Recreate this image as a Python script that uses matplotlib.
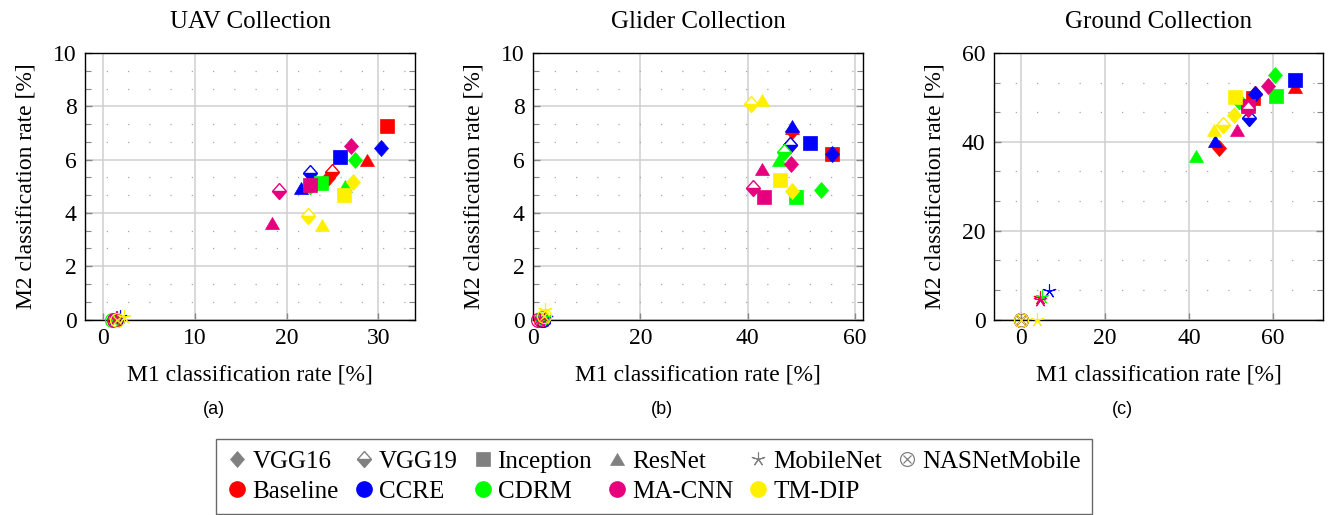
import matplotlib
matplotlib.use('Agg')
import matplotlib.pyplot as plt
from matplotlib.markers import MarkerStyle
from matplotlib.transforms import Affine2D
from matplotlib.lines import Line2D
from matplotlib.ticker import MultipleLocator

plt.rcParams['font.family'] = ['Liberation Serif', 'DejaVu Serif']

methods = ['Baseline', 'CCRE', 'CDRM', 'MA-CNN', 'TM-DIP']
method_colors = ['#ff0000', '#0000ff', '#00ff00', '#e6007e', '#fff000']
backbones = ['VGG16', 'VGG19', 'Inception', 'ResNet', 'MobileNet', 'NASNetMobile']

# rows = methods, columns = backbones (same order as above)
uav_m1 = [[24.5, 25.0, 31.0, 28.8, 1.5, 1.3],
          [30.3, 22.5, 25.8, 21.6, 1.8, 1.4],
          [27.5, 22.6, 23.7, 26.4, 1.2, 1.0],
          [27.0, 19.2, 22.5, 18.4, 1.4, 1.2],
          [27.2, 22.3, 26.3, 23.9, 2.3, 1.5]]
uav_m2 = [[5.30, 5.55, 7.25, 5.97, 0.05, 0.0],
          [6.45, 5.50, 6.10, 4.93, 0.10, 0.0],
          [5.98, 5.00, 5.13, 5.00, 0.00, 0.0],
          [6.50, 4.82, 5.03, 3.62, 0.05, 0.0],
          [5.16, 3.90, 4.68, 3.54, 0.10, 0.0]]

glider_m1 = [[48.3, 47.8, 55.8, 48.3, 2.0, 1.5],
             [55.8, 47.8, 51.6, 48.3, 2.5, 1.8],
             [53.7, 46.8, 49.0, 45.8, 2.2, 1.6],
             [48.1, 41.0, 43.1, 42.7, 1.2, 1.0],
             [48.2, 40.7, 46.0, 42.6, 2.2, 2.0]]
glider_m2 = [[7.08, 6.55, 6.20, 7.20, 0.00, 0.00],
             [6.20, 6.55, 6.62, 7.25, 0.05, 0.00],
             [4.85, 6.30, 4.60, 6.00, 0.10, 0.05],
             [5.82, 4.95, 4.60, 5.65, 0.00, 0.00],
             [4.84, 8.10, 5.22, 8.25, 0.35, 0.15]]

ground_m1 = [[47.3, 55.8, 55.4, 65.3, 4.5, 0.0],
             [55.8, 54.4, 65.4, 46.2, 6.6, 0.0],
             [60.5, 52.0, 60.9, 41.7, 4.9, 0.0],
             [59.0, 54.0, 54.2, 51.6, 4.4, 0.0],
             [50.7, 48.1, 51.1, 46.1, 3.7, 0.0]]
ground_m2 = [[38.6, 50.8, 49.8, 52.3, 4.8, 0.0],
             [50.8, 45.3, 54.0, 40.2, 6.45, 0.0],
             [55.0, 49.1, 50.4, 36.9, 5.1, 0.0],
             [52.5, 47.3, 48.0, 42.7, 4.4, 0.0],
             [46.1, 43.8, 50.1, 42.7, 0.0, 0.0]]

diamond_tf = Affine2D().scale(0.8, 1.0)
tri_tf = Affine2D().scale(1.0, 0.85)


def marker_kws(b, color):
    # list of marker layers drawn on top of each other
    if b == 0:
        return [dict(marker=MarkerStyle('D', transform=diamond_tf), ms=8.5,
                     mfc=color, mec=color, mew=0.5)]
    if b == 1:
        return [dict(marker=MarkerStyle('D', fillstyle='bottom', transform=diamond_tf),
                     ms=8.5, mfc=color, mfcalt='white', mec=color, mew=1.0)]
    if b == 2:
        return [dict(marker='s', ms=10.5, mfc=color, mec=color, mew=0.5)]
    if b == 3:
        return [dict(marker=MarkerStyle('^', transform=tri_tf), ms=10,
                     mfc=color, mec=color, mew=0.5)]
    if b == 4:
        return [dict(marker=(5, 2, 0), ms=10, mfc=color, mec=color, mew=0.8)]
    return [dict(marker='o', ms=10, mfc='none', mec=color, mew=0.9),
            dict(marker='x', ms=6.2, mec=color, mew=0.9)]


draw_order = [2, 0, 1, 3, 4, 5]

fig = plt.figure(figsize=(13.32, 5.15), dpi=100)
panels = [
    ('UAV Collection', uav_m1, uav_m2, [0.0638, 0.3796, 0.2477, 0.5175], (-2, 34), [0, 10, 20, 30], 10, 2),
    ('Glider Collection', glider_m1, glider_m2, [0.4002, 0.3796, 0.2477, 0.5175], (0, 61.5), [0, 20, 40, 60], 10, 2),
    ('Ground Collection', ground_m1, ground_m2, [0.7462, 0.3796, 0.2470, 0.5175], (-6.5, 72), [0, 20, 40, 60], 60, 20),
]
sub_labels = ['(a)', '(b)', '(c)']

for i, (title, m1, m2, rect, xlim, xticks, ymax, ystep) in enumerate(panels):
    ax = fig.add_axes(rect)
    ax.set_xlim(*xlim)
    ax.set_ylim(0, ymax)
    ax.set_xticks(xticks)
    ax.yaxis.set_major_locator(MultipleLocator(ystep))
    ax.yaxis.set_minor_locator(MultipleLocator(ystep / 3))
    ax.grid(which='major', color='#cfcfcf', lw=1.1)
    ax.grid(which='minor', axis='y', color='#a8a8a8', lw=0.9, linestyle=(0, (1, 16)))
    ax.set_axisbelow(True)
    ax.tick_params(which='both', direction='in', top=False, right=True, color='#888888',
                   labelsize=17, pad=6)
    ax.tick_params(which='major', length=5, width=1.0)
    ax.tick_params(which='minor', length=4, width=0.8)
    for s in ax.spines.values():
        s.set_linewidth(1.0)
    ax.set_title(title, fontsize=18, pad=18)
    ax.set_xlabel('M1 classification rate [%]', fontsize=17, labelpad=11)
    ax.set_ylabel('M2 classification rate [%]', fontsize=17, labelpad=12)

    for mi, color in enumerate(method_colors):
        for b in draw_order:
            for kw in marker_kws(b, color):
                ax.plot([m1[mi][b]], [m2[mi][b]], linestyle='none', clip_on=False,
                        zorder=3, **kw)

    fig.text(rect[0] + rect[2] * 0.39, 0.205, sub_labels[i], ha='center', va='center',
             fontsize=13, family='Liberation Sans')

gray = '#808080'
shape_handles = []
for b in range(6):
    layers = tuple(Line2D([], [], linestyle='none', **kw) for kw in marker_kws(b, gray))
    shape_handles.append(layers[0] if len(layers) == 1 else layers)
color_handles = [Line2D([], [], linestyle='none', marker='o', ms=11, mfc=c, mec=c)
                 for c in method_colors]
handles, labels = [], []
for k in range(6):
    handles.append(shape_handles[k])
    labels.append(backbones[k])
    if k < 5:
        handles.append(color_handles[k])
        labels.append(methods[k])

leg = fig.legend(handles, labels, ncol=6, loc='upper center', bbox_to_anchor=(0.491, 0.147),
                 fontsize=18, frameon=True, fancybox=False, edgecolor='#444444',
                 handlelength=0.8, handletextpad=0.2, columnspacing=0.6,
                 borderpad=0.45, labelspacing=0.3, borderaxespad=0)
leg.get_frame().set_linewidth(1.0)

fig.savefig('out.png', dpi=100)
